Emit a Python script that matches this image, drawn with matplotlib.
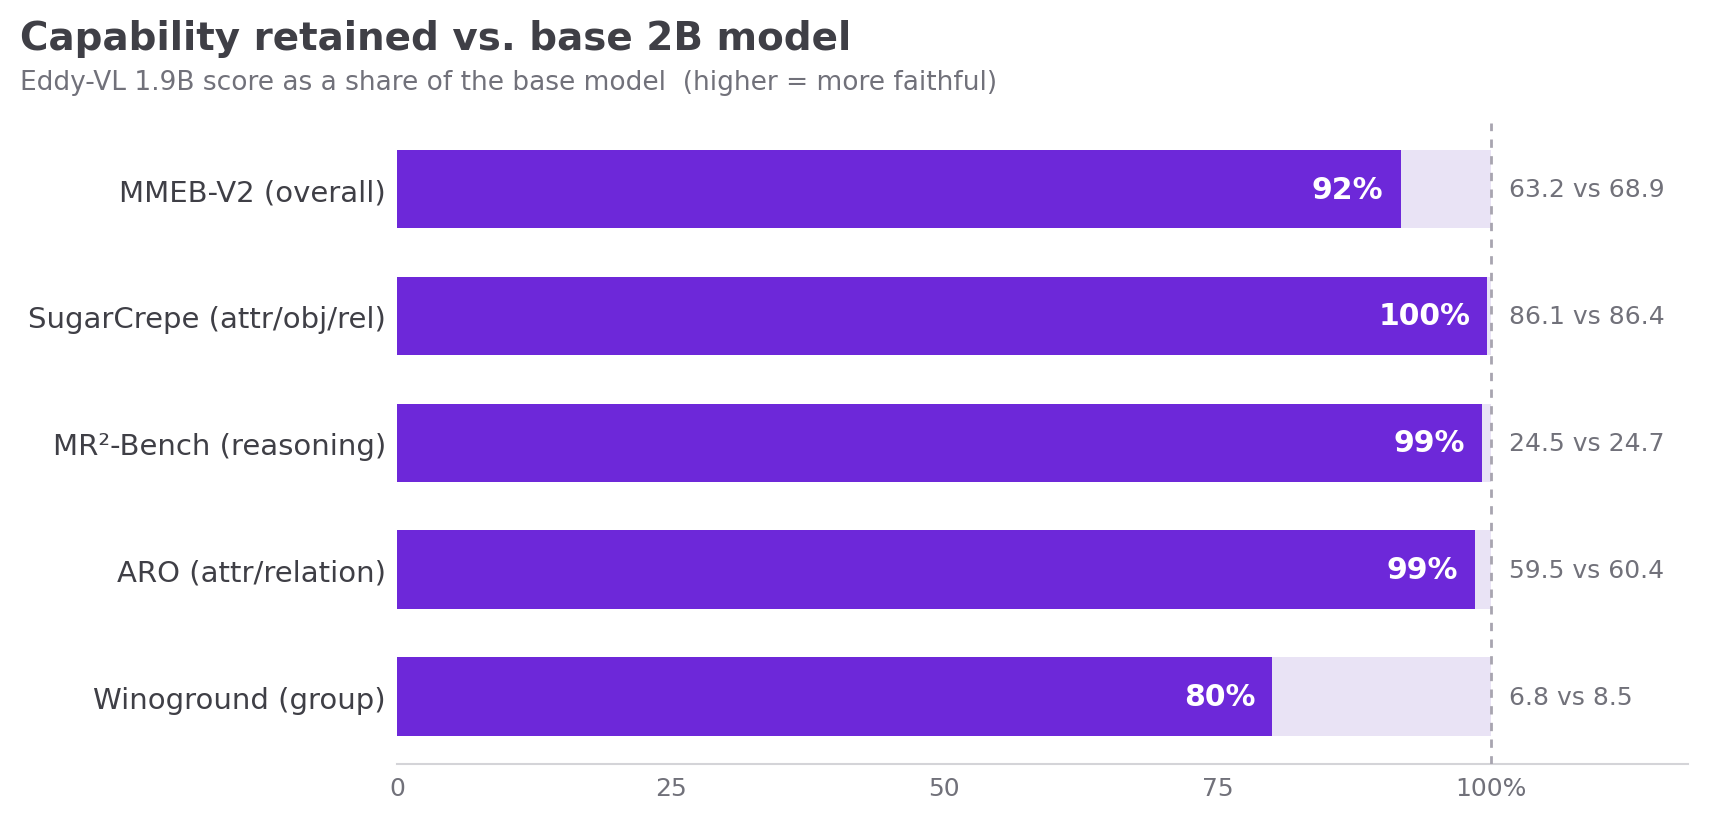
import matplotlib
matplotlib.use("Agg")
import matplotlib.pyplot as plt
import numpy as np

plt.rcParams['font.family'] = ['DejaVu Sans']

benchmarks = ["MMEB-V2 (overall)", "SugarCrepe (attr/obj/rel)", "MR²-Bench (reasoning)",
              "ARO (attr/relation)", "Winoground (group)"]
eddy_scores = [63.2, 86.1, 24.5, 59.5, 6.8]
base_scores = [68.9, 86.4, 24.7, 60.4, 8.5]
pct_labels = ["92%", "100%", "99%", "99%", "80%"]
xtick_vals = [0, 25, 50, 75, 100]
xtick_labels = ["0", "25", "50", "75", "100%"]

share = [100 * e / b for e, b in zip(eddy_scores, base_scores)]

PURPLE = "#6D28D9"
LIGHT = "#E9E3F5"
TITLE_C = "#3F3F46"
SUB_C = "#71717A"

fig = plt.figure(figsize=(17.09, 8.2), dpi=100)
ax = fig.add_axes([397 / 1709, 1 - 765 / 820, (1688 - 397) / 1709, (765 - 124) / 820])

y = np.arange(len(benchmarks))
h = 0.62
ax.barh(y, [100] * len(y), height=h, color=LIGHT, zorder=1)
ax.barh(y, share, height=h, color=PURPLE, zorder=2)
ax.axvline(100, color="#A8A5B0", linestyle=(0, (3, 3)), linewidth=2, zorder=3)

for i in range(len(y)):
    ax.annotate(pct_labels[i], (share[i], y[i]), xytext=(-17, 0), textcoords="offset pixels",
                ha="right", va="center", color="white", fontsize=21.5, fontweight="bold", zorder=4)
    ax.annotate(f"{eddy_scores[i]} vs {base_scores[i]}", (100, y[i]), xytext=(18, 0),
                textcoords="offset pixels", ha="left", va="center", color=SUB_C, fontsize=18)

ax.set_xlim(0, 118)
ax.set_ylim(4.53, -0.52)
ax.set_yticks(y)
ax.set_yticklabels(benchmarks, fontsize=21, color=TITLE_C)
ax.set_xticks(xtick_vals)
ax.set_xticklabels(xtick_labels, fontsize=18, color=SUB_C)
ax.tick_params(axis="both", length=0)
ax.tick_params(axis="y", pad=8)
ax.tick_params(axis="x", pad=9)
for s in ["top", "right", "left"]:
    ax.spines[s].set_visible(False)
ax.spines["bottom"].set_color("#D4D4D8")
ax.spines["bottom"].set_linewidth(1.5)

fig.text(20 / 1709, 1 - 39 / 820, "Capability retained vs. base 2B model", fontsize=28,
         fontweight="bold", color=TITLE_C, va="center", ha="left")
fig.text(20 / 1709, 1 - 83 / 820, "Eddy-VL 1.9B score as a share of the base model  (higher = more faithful)",
         fontsize=19, color=SUB_C, va="center", ha="left")

fig.savefig("out.png", dpi=100, facecolor="white")
